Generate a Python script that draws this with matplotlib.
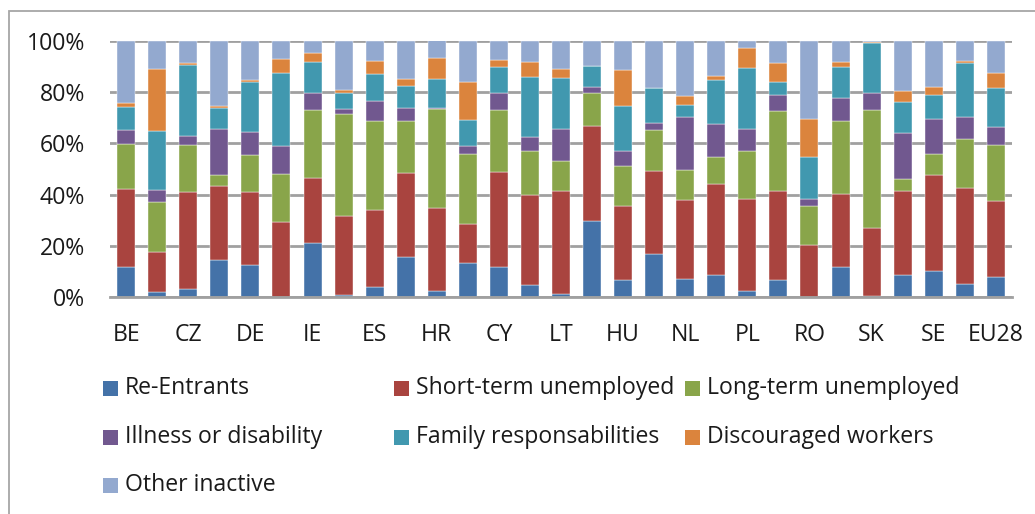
import matplotlib
matplotlib.use("Agg")
import matplotlib.pyplot as plt
from matplotlib.patches import Rectangle
import numpy as np

plt.rcParams['font.family'] = ['Open Sans', 'DejaVu Sans']

countries = ["BE", "BG", "CZ", "DK", "DE", "EE", "IE", "EL", "ES", "FR", "HR", "IT",
             "CY", "LV", "LT", "LU", "HU", "MT", "NL", "AT", "PL", "PT", "RO", "SI",
             "SK", "FI", "SE", "UK", "EU28"]

series_names = ["Re-Entrants", "Short-term unemployed", "Long-term unemployed",
                "Illness or disability", "Family responsabilities",
                "Discouraged workers", "Other inactive"]

re_entrants = [11.8, 2.0, 3.1, 14.3, 12.4, 0.0, 21.2, 0.7, 4.0, 15.5, 2.5, 13.2,
               11.6, 4.6, 1.3, 29.8, 6.8, 16.7, 7.2, 8.7, 2.5, 6.5, 0.1, 11.6,
               0.4, 8.6, 10.2, 5.1, 7.7]
short_term = [30.3, 15.4, 38.0, 29.1, 28.7, 29.4, 25.4, 30.8, 30.1, 33.1, 32.1, 15.4,
              37.4, 35.2, 40.1, 37.1, 28.9, 32.4, 30.8, 35.6, 35.9, 34.9, 20.3, 28.8,
              26.4, 32.8, 37.6, 37.3, 29.7]
long_term = [17.8, 19.8, 18.1, 4.1, 14.2, 18.5, 26.3, 40.0, 34.7, 20.2, 38.7, 27.4,
             24.0, 17.2, 11.6, 12.7, 15.3, 16.0, 11.5, 10.3, 18.6, 31.1, 15.1, 28.5,
             46.1, 4.7, 8.1, 19.4, 22.1]
illness = [5.5, 4.5, 3.8, 18.3, 9.0, 11.2, 6.7, 1.8, 7.6, 5.0, 0.5, 3.1,
           6.6, 5.4, 12.5, 2.6, 5.9, 3.0, 20.9, 12.8, 8.8, 6.3, 2.9, 8.7,
           6.9, 18.0, 13.8, 8.5, 6.8]
family = [8.7, 23.3, 27.8, 7.9, 19.8, 28.3, 12.2, 6.5, 10.8, 8.8, 11.3, 9.9,
          10.1, 23.7, 20.2, 8.2, 17.6, 13.5, 4.7, 17.2, 23.8, 5.2, 16.4, 12.2,
          19.3, 12.1, 9.3, 21.2, 15.5]
discouraged = [1.8, 23.9, 0.7, 1.0, 0.7, 5.4, 3.5, 0.9, 5.1, 2.7, 8.2, 15.0,
               2.7, 5.6, 3.5, 0.0, 14.3, 0.0, 3.5, 1.9, 7.5, 7.4, 14.9, 2.0,
               0.6, 4.1, 2.9, 0.6, 5.7]
other_inactive = [24.1, 11.1, 8.5, 25.3, 15.2, 7.2, 4.7, 19.3, 7.7, 14.7, 7.2, 16.0,
                  7.6, 8.3, 10.8, 9.6, 11.2, 18.4, 21.4, 13.5, 2.9, 8.6, 30.3, 8.2,
                  0.3, 19.7, 18.1, 7.9, 12.5]

colors = ["#4472A8", "#A9443F", "#89A54A", "#71588F", "#4198AF", "#DB843D", "#93A9CF"]

W, H = 1035, 514
FS = 16.6
fig = plt.figure(figsize=(W / 100, H / 100), dpi=100)
fig.patch.set_facecolor("white")

# outer chart frame
fig.add_artist(Rectangle((8.5 / W, -0.01), 1.1, 1 - 11 / H + 0.01, transform=fig.transFigure,
                         fill=False, edgecolor="#A6A6A6", linewidth=1.3))

ax = fig.add_axes([110 / W, 1 - 297 / H, (1012 - 110) / W, (297 - 41) / H])

data = [re_entrants, short_term, long_term, illness, family, discouraged, other_inactive]
x = np.arange(len(countries))
bottom = np.zeros(len(countries))
for vals, col, name in zip(data, colors, series_names):
    v = np.array(vals) / 100.0
    ax.bar(x, v, 0.58, bottom=bottom, color=col, label=name, zorder=3,
           edgecolor="white", linewidth=0.3)
    bottom += v

ax.set_xlim(-0.52, len(countries) - 0.48)
ax.set_ylim(0, 1.0)
ax.set_yticks(np.linspace(0, 1, 6))
ax.set_yticklabels([f"{int(round(t * 100))}%" for t in np.linspace(0, 1, 6)])
ax.yaxis.grid(True, color="#A0A0A0", linewidth=2, zorder=0)
ax.set_axisbelow(True)
for s in ["left", "right", "top"]:
    ax.spines[s].set_visible(False)
ax.spines["bottom"].set_color("#A0A0A0")
ax.spines["bottom"].set_linewidth(2)
ax.spines["bottom"].set_zorder(4)

ax.set_xticks(x[::2])
ax.set_xticklabels(countries[::2])
ax.tick_params(axis="both", length=0, labelsize=FS, labelcolor="#1a1a1a")
ax.tick_params(axis="y", pad=18)
ax.tick_params(axis="x", pad=19)

# legend laid out in three columns like the original
legend_layout = [
    (0, 103, 388), (1, 394, 388), (2, 685, 388),
    (3, 103, 437), (4, 394, 437), (5, 685, 437),
    (6, 103, 485),
]
sq = 15
for idx, px, py in legend_layout:
    fig.add_artist(Rectangle((px / W, 1 - (py + sq / 2) / H), sq / W, sq / H,
                             transform=fig.transFigure, facecolor=colors[idx],
                             edgecolor="none"))
    fig.text((px + sq + 7) / W, 1 - py / H, series_names[idx], fontsize=FS,
             color="#1a1a1a", va="center", ha="left")

fig.savefig("out.png", dpi=100, facecolor="white")
